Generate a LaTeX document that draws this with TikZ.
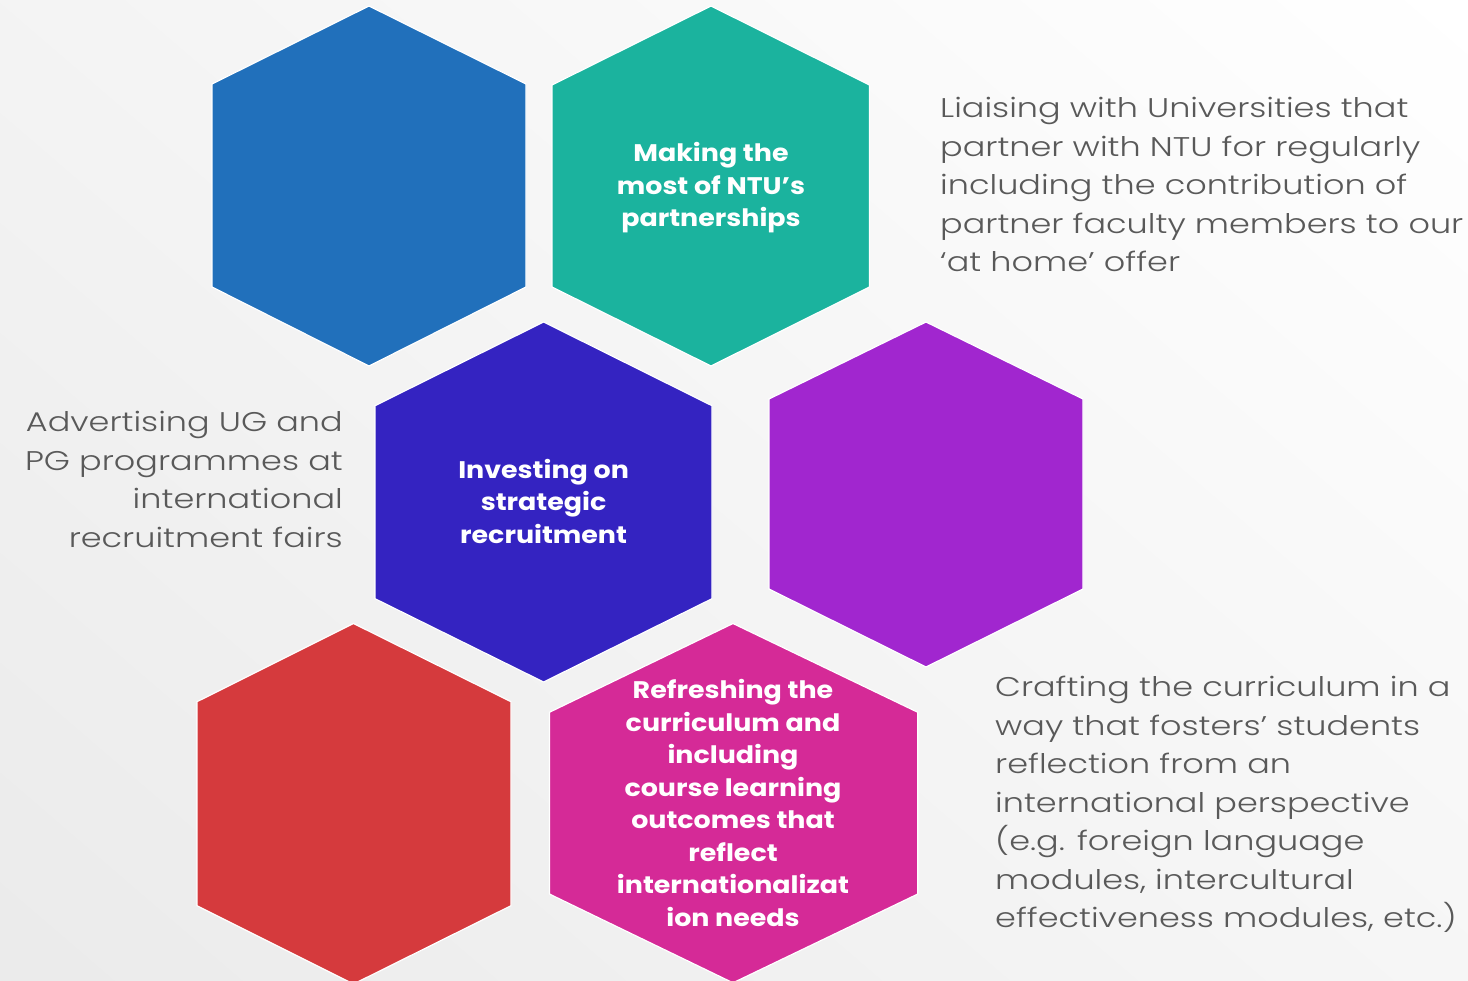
\documentclass[tikz,border=0pt]{standalone}
\usepackage{fontspec}
\usetikzlibrary{shadings}
\setmainfont{Poppins}[FakeStretch=1.12]
\newfontfamily\sidefont{Poppins Light}[FakeStretch=1.24]
\definecolor{blueH}{RGB}{33,112,187}
\definecolor{tealH}{RGB}{27,179,158}
\definecolor{indigoH}{RGB}{52,35,193}
\definecolor{purpleH}{RGB}{161,38,207}
\definecolor{redH}{RGB}{213,58,61}
\definecolor{magentaH}{RGB}{213,42,151}
\definecolor{textgray}{RGB}{89,89,89}
\begin{document}
\begin{tikzpicture}[x=1pt,y=-1pt,
  hexshape/.style={draw=white, line width=1.2pt, line join=miter},
  hextext/.style={text=white, align=center, inner sep=0pt,
    font=\bfseries\fontsize{24}{32.5}\selectfont},
  sidetext/.style={text=textgray, inner sep=0pt,
    font=\sidefont\fontsize{27}{38.5}\selectfont}]
\useasboundingbox (0,0) rectangle (1468,981);
\shade[upper left=gray!9, upper right=white, lower left=gray!16, lower right=gray!7]
  (0,0) rectangle (1468,981);
% hexagons
\fill[hexshape, fill=blueH] (369,6) -- (526,84) -- (526,287) -- (369,366) -- (212,287) -- (212,84) -- cycle;
\fill[hexshape, fill=tealH] (711,6) -- (869.5,85) -- (869.5,287) -- (711,366) -- (552,287) -- (552,85) -- cycle;
\fill[hexshape, fill=indigoH] (543.6,322) -- (712,405.7) -- (712,598.7) -- (543.6,682) -- (375,598.7) -- (375,405.7) -- cycle;
\fill[hexshape, fill=purpleH] (926,322) -- (1083,399) -- (1083,589) -- (926,667) -- (769,589) -- (769,399) -- cycle;
\fill[hexshape, fill=redH] (353.5,623.5) -- (511,701.7) -- (511,905.7) -- (353.5,984) -- (197,905.7) -- (197,701.7) -- cycle;
\fill[hexshape, fill=magentaH] (733,623.5) -- (917.8,712.3) -- (917.8,894) -- (733,982.8) -- (549.4,894) -- (549.4,712.3) -- cycle;
% hexagon texts
\node[hextext] (partner) at (711,188) {Making the\\most of NTU’s\\partnerships};
\node[hextext] (recruit) at (543.6,501) {Investing on\\strategic\\recruitment};
\node[hextext] (curric) at (733,803) {Refreshing the\\curriculum and\\including\\course learning\\outcomes that\\reflect\\internationalizat\\ion needs};
% side texts
\node[sidetext, anchor=north east, align=right] (advert) at (343,411)
  {Advertising UG and\\PG programmes at\\international\\recruitment fairs};
\node[sidetext, anchor=north west, align=left] (liaise) at (940,97)
  {Liaising with Universities that\\partner with NTU for regularly\\including the contribution of\\partner faculty members to our\\‘at home’ offer};
\node[sidetext, anchor=north west, align=left] (craft) at (995,676)
  {Crafting the curriculum in a\\way that fosters’ students\\reflection from an\\international perspective\\(e.g. foreign language\\modules, intercultural\\effectiveness modules, etc.)};
\end{tikzpicture}
\end{document}
